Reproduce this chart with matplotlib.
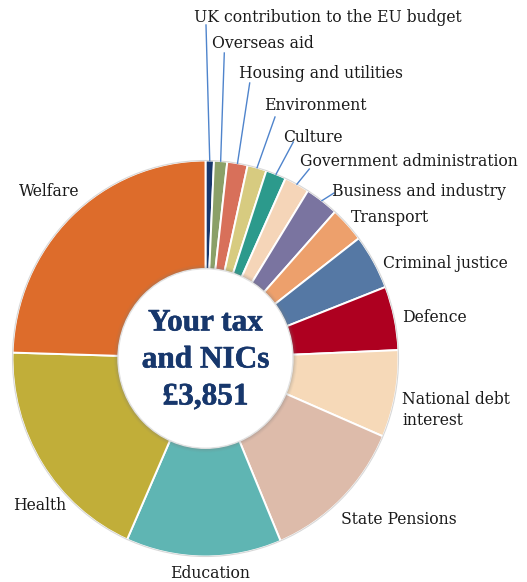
import numpy as np
import matplotlib
matplotlib.use("Agg")
import matplotlib.pyplot as plt
import matplotlib.patheffects as pe
from matplotlib.patches import Circle

# Share of each pound of tax and NICs, clockwise from 12 o'clock
categories = [
    "UK contribution to the EU budget", "Overseas aid", "Housing and utilities",
    "Environment", "Culture", "Government administration",
    "Business and industry", "Transport", "Criminal justice", "Defence",
    "National debt\ninterest", "State Pensions", "Education", "Health", "Welfare",
]
shares = [0.7, 1.1, 1.7, 1.6, 1.7, 2.1, 2.8, 2.9, 4.5, 5.2, 7.1, 12.2, 13.0, 18.8, 24.5]
colors = [
    "#17376c", "#8ba068", "#d8705a", "#d7cb80", "#2c9a8c", "#f5d5b8",
    "#7a74a0", "#eda06c", "#5578a4", "#ae0020", "#f6d9b8", "#ddbbaa",
    "#5fb5b3", "#c1ae39", "#dd6c2b",
]
center_lines = ["Your tax", "and NICs", "£3,851"]

# label anchor (left edge / centre) in figure pixels
label_px = [
    (194, 18), (212, 43), (239, 73), (264, 106), (283, 137), (300, 161),
    (332, 191), (351, 217), (383, 263), (402, 317), (402, 410), (341, 520),
    (170, 573), (13, 506), (19, 191),
]
# where the leader lines of the thin slices end, figure pixels
leader_end_px = [
    (206, 25), (224.3, 53), (249.7, 83), (275, 117), (293.3, 142),
    (309.3, 169), (334, 193),
]

W, H = 527, 582
CX, CY = 205.5, 358.5   # donut centre, pixels from top-left
RX, RY = 193.0, 198.0   # outer radii in pixels


def to_data(px, py):
    return (px - CX) / RX, (CY - py) / RY


fig = plt.figure(figsize=(W / 100, H / 100), dpi=100)
ax = fig.add_axes([0, 0, 1, 1])

wedges, _ = ax.pie(
    shares, colors=colors, startangle=90, counterclock=False, radius=1.0,
    wedgeprops=dict(width=0.58, edgecolor="white", linewidth=1.4),
)
ax.set_aspect("auto")
ax.set_xlim(-CX / RX, (W - CX) / RX)
ax.set_ylim(-(H - CY) / RY, CY / RY)
ax.axis("off")

# faint outline round the ring
ax.add_patch(Circle((0, 0), 1.0, fill=False, ec="#d8d8d8", lw=0.8, zorder=1))

# soft shadow and the white centre disc
r_in = 87.5 / RX
for k, a in enumerate([0.05, 0.07, 0.10, 0.14]):
    ax.add_patch(Circle((0, 0), r_in + 0.022 - k * 0.005, fc="#808080",
                        ec="none", alpha=a, zorder=3))
ax.add_patch(Circle((0, 0), r_in, fc="white", ec="#e2e2e2", lw=1.0, zorder=4))

serif = ["DejaVu Serif"]
for (px, py), txt in zip(label_px, categories):
    x, y = to_data(px, py)
    ax.text(x, y, txt, ha="left", va="center", fontsize=12.5, family=serif,
            fontstretch="condensed", color="#1a1a1a", linespacing=1.25, zorder=6)

# leader lines from the mid-angle of the thin slices to their labels
total = sum(shares)
start = 0.0
for i, s in enumerate(shares):
    mid = (start + s / 2) / total * 2 * np.pi
    start += s
    if i < len(leader_end_px):
        x0, y0 = np.sin(mid), np.cos(mid)
        x1, y1 = to_data(*leader_end_px[i])
        ax.plot([x0, x1], [y0, y1], color="#4f84cc", lw=1.0, zorder=5)

for txt, py in zip(center_lines, [323, 360, 397]):
    x, y = to_data(205.5, py)
    ax.text(x, y, txt, ha="center", va="center", fontsize=22.5, fontweight="bold",
            family=["Liberation Serif"], color="#17376c", zorder=7,
            path_effects=[pe.withStroke(linewidth=0.4, foreground="#17376c")])

fig.savefig("out.png", dpi=100)
